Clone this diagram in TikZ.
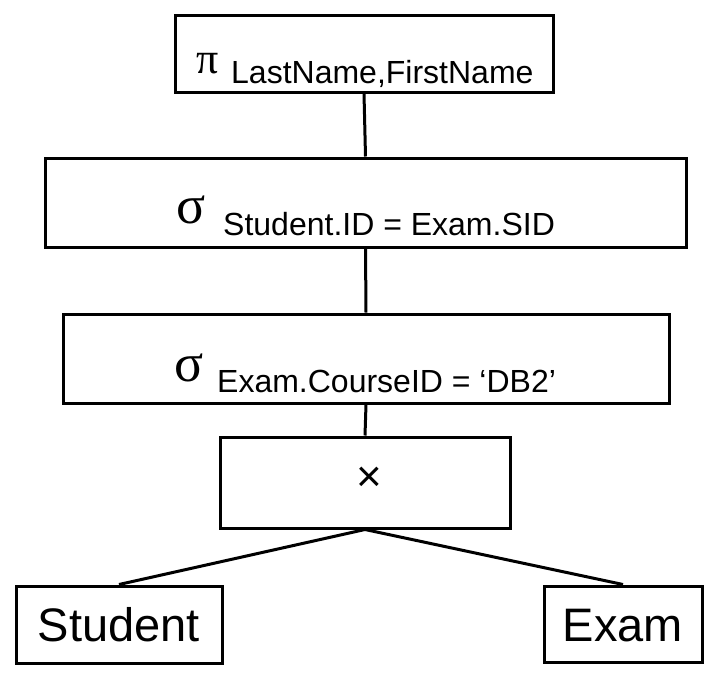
\documentclass[tikz,border=0pt]{standalone}
\usepackage{fontspec}
\setmainfont{Liberation Sans}
\newfontfamily\greekfont{Liberation Serif}
\usetikzlibrary{positioning}
\def\opfont{\fontsize{32}{36}\selectfont}
\def\pifont{\greekfont\fontsize{44}{48}\selectfont}
\def\sigfont{\greekfont\fontsize{54}{58}\selectfont}
\def\relfont{\fontsize{47}{52}\selectfont}
\tikzset{
	opbox/.style={draw, line width=3pt, inner sep=0pt},
	relbox/.style={opbox, font=\relfont, text height=34pt, text depth=0pt},
	lbl/.style={anchor=base west, inner sep=0pt},
	edge/.style={line width=3pt}
}

\begin{document}
\begin{tikzpicture}[x=1pt, y=-1pt]
		%%%%% START %%%%%
		\useasboundingbox (0, 0) rectangle (718, 678);
		
		\node[opbox, minimum width=378, minimum height=77] (proj) at (364, 53.5) {};
		\node[lbl, font=\pifont] (projsym) at (196, 73) {π};
		\node[lbl, font=\opfont] (projattr) at (231, 83) {LastName,FirstName};
		
		\node[opbox, minimum width=641, minimum height=89] (seljoin) at (365.5, 202.5) {};
		\node[lbl, font=\sigfont] (seljoinsym) at (176, 223) {σ};
		\node[lbl, font=\opfont] (seljoincond) at (223, 235) {Student.ID = Exam.SID};
		
		\node[opbox, minimum width=606, minimum height=89] (selcourse) at (366, 358.5) {};
		\node[lbl, font=\sigfont] (selcoursesym) at (174, 381) {σ};
		\node[lbl, font=\opfont] (selcoursecond) at (217, 392) {Exam.CourseID = ‘DB2’};
		
		\node[opbox, minimum width=290, minimum height=91] (cross) at (365, 482.5) {};
		\node[inner sep=0pt, font=\fontsize{44}{48}\selectfont] (crosssym) at (369, 479) {×};
		
		\node[relbox, minimum width=206, minimum height=77] (student) at (119, 624.5) {Student};
		\node[relbox, minimum width=158, minimum height=76] (exam) at (623, 624) {Exam};
		
		\draw[edge] (proj.south) -- (seljoin.north);
		\draw[edge] (seljoin.south) -- (selcourse.north);
		\draw[edge] (selcourse.south) -- (cross.north);
		\draw[edge] (cross.south) -- (student.north);
		\draw[edge] (cross.south) -- (exam.north);
		%%%%% END %%%%%
	\end{tikzpicture}
\end{document}
